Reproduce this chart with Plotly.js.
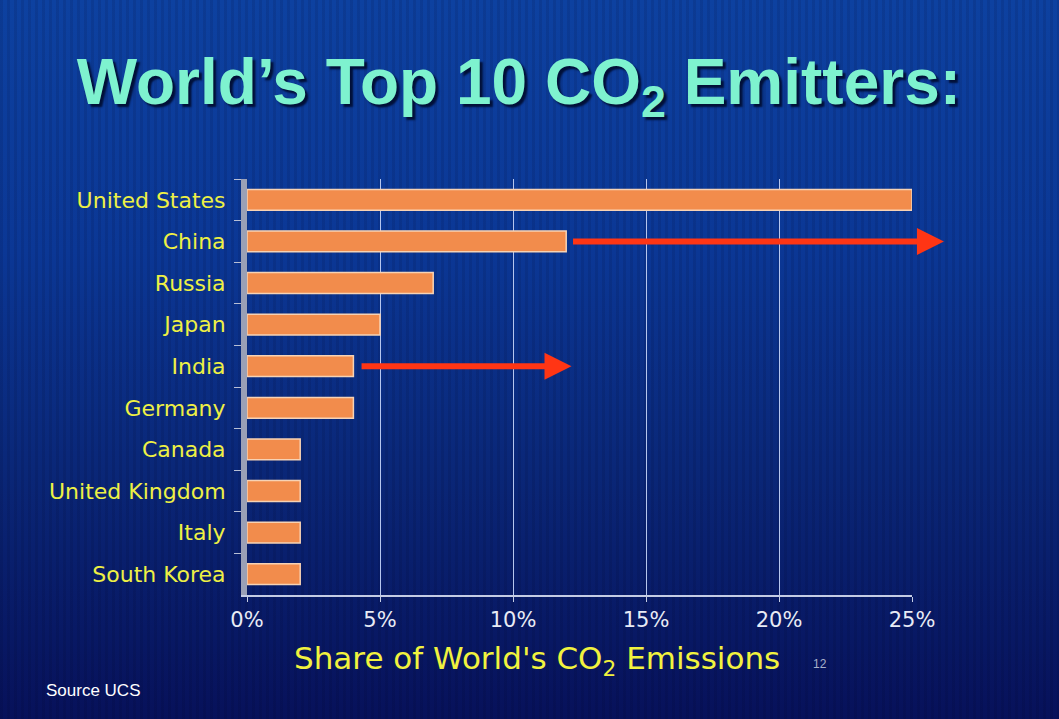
<!DOCTYPE html>
<html>
<head>
<meta charset="utf-8">
<script src="https://cdn.plot.ly/plotly-3.0.1.min.js"></script>
<style>
  html, body { margin: 0; padding: 0; }
  body {
    width: 1059px; height: 719px; overflow: hidden;
    background:
      repeating-linear-gradient(90deg, rgba(0,0,30,0.10) 0px, rgba(0,0,30,0.10) 3px, rgba(255,255,255,0) 3px, rgba(255,255,255,0) 7px),
      linear-gradient(180deg, #0d41a0 0%, #0b3795 35%, #0a2778 65%, #07115a 100%);
  }
  #chart { width: 1059px; height: 719px; }
</style>
</head>
<body>
<div id="chart"></div>
<script>
// Data
const countries = ["United States", "China", "Russia", "Japan", "India",
                   "Germany", "Canada", "United Kingdom", "Italy", "South Korea"];
const sharePct = [25, 12, 7, 5, 4, 4, 2, 2, 2, 2];
const xTickVals = [0, 5, 10, 15, 20, 25];
const xTickText = ["0%", "5%", "10%", "15%", "20%", "25%"];
// Projected-growth arrows (from -> to, % share)
const arrowCountries = ["China", "India"];
const arrowFrom = [12.2, 4.25];
const arrowTo = [26.2, 12.2];

const labelFont = "DejaVu Sans, sans-serif";

const trace = {
  type: "bar",
  orientation: "h",
  y: countries,
  x: sharePct,
  marker: { color: "#f28c4c", line: { color: "#f7d2b4", width: 1.5 } },
  hoverinfo: "none",
  cliponaxis: false
};

const annotations = arrowCountries.map((c, i) => ({
  xref: "x", yref: "y", axref: "x", ayref: "y",
  x: arrowTo[i], y: c, ax: arrowFrom[i], ay: c,
  text: "", showarrow: true,
  arrowhead: 2, arrowsize: 0.9, arrowwidth: 6, arrowcolor: "#ff3514"
}));

annotations.push({
  xref: "paper", yref: "paper", x: 0.5, y: 0,
  xanchor: "center", yanchor: "middle",
  xshift: 537 - (247 + 665 / 2), yshift: -65,
  text: "Share of World's CO<sub>2</sub> Emissions",
  showarrow: false,
  font: { family: labelFont, size: 31, color: "#f1f23e" }
});
annotations.push({
  xref: "paper", yref: "paper", x: 0.5, y: 0,
  xanchor: "center", yanchor: "middle",
  xshift: 820 - (247 + 665 / 2), yshift: -69,
  text: "12", showarrow: false,
  font: { family: "Liberation Sans, Arial, sans-serif", size: 12, color: "#a8b0c8" }
});
annotations.push({
  xref: "paper", yref: "paper", x: 0, y: 0,
  xanchor: "left", yanchor: "middle",
  xshift: -(247 - 44), yshift: -95,
  text: "Source UCS", showarrow: false,
  font: { family: "Liberation Sans, Arial, sans-serif", size: 17, color: "#ffffff" }
});

const layout = {
  width: 1059, height: 719,
  paper_bgcolor: "rgba(0,0,0,0)",
  plot_bgcolor: "rgba(0,0,0,0)",
  margin: { l: 247, r: 147, t: 179, b: 124 },
  title: {
    text: "World’s Top 10 CO<sub>2</sub> Emitters:",
    x: 0.49, xanchor: "center",
    y: 0.887, yanchor: "middle", yref: "container",
    font: { family: "Liberation Sans, Arial, sans-serif", size: 64, color: "#7ef2cf",
            weight: "bold", shadow: "3px 3px 2px #021038" }
  },
  showlegend: false,
  bargap: 0.5,
  xaxis: {
    range: [0, 25],
    tickvals: xTickVals, ticktext: xTickText,
    tickfont: { family: labelFont, size: 21, color: "#e8ebf5" },
    showgrid: true, gridcolor: "#b6c6ee", gridwidth: 1,
    zeroline: false,
    showline: true, linecolor: "#c4cce4", linewidth: 2,
    ticks: "outside", ticklen: 5, tickcolor: "#c4cce4",
    fixedrange: true
  },
  yaxis: {
    type: "category",
    categoryorder: "array", categoryarray: countries,
    autorange: "reversed",
    tickfont: { family: labelFont, size: 22, color: "#eef044" },
    showgrid: false, zeroline: false,
    showline: true, linecolor: "#9aa0b6", linewidth: 6,
    ticks: "outside", tickson: "boundaries", ticklen: 7, tickcolor: "#b8bfd4", tickwidth: 1,
    ticklabelstandoff: 11,
    fixedrange: true
  },
  annotations: annotations
};

Plotly.newPlot("chart", [trace], layout, { staticPlot: true, displayModeBar: false });
</script>
</body>
</html>
